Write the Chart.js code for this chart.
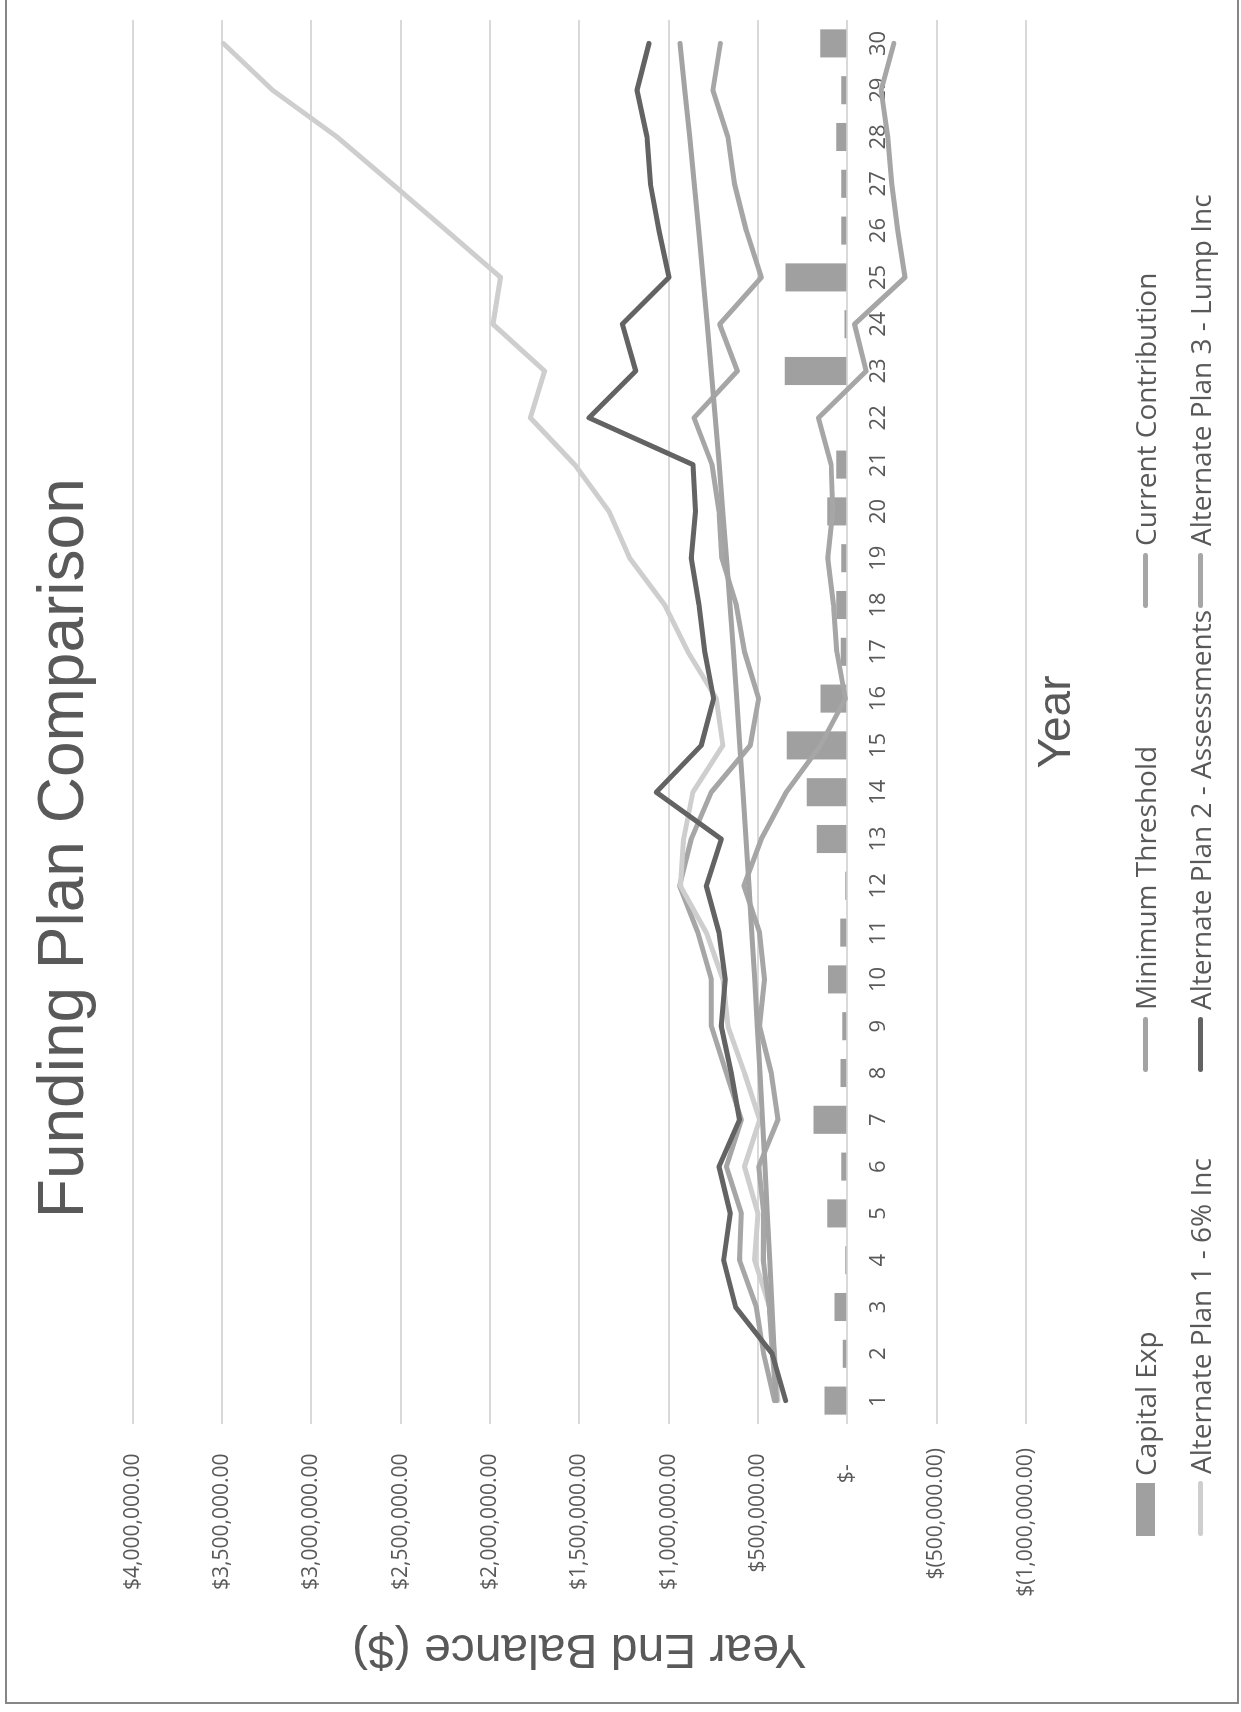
<!DOCTYPE html>
<html><head><meta charset="utf-8">
<script src="https://cdn.jsdelivr.net/npm/chart.js@4.4.1/dist/chart.umd.min.js"></script>
<style>
html,body{margin:0;padding:0;overflow:hidden;background:#fff;width:1241px;height:1712px;}
#frame{position:absolute;left:5px;top:-4px;width:1234px;height:1708px;border:2px solid #868686;box-sizing:border-box;}
#rot{position:absolute;left:0;top:0;width:1712px;height:1241px;transform-origin:0 0;transform:translateY(1712px) rotate(-90deg);}
#rot canvas{position:absolute;left:0;top:0;}
.lg{position:absolute;display:flex;align-items:center;height:40px;font-family:"Open Sans";font-size:28px;color:#595959;white-space:nowrap;}
.sw{display:inline-block;margin-right:7px;}
</style></head>
<body>
<div id="frame"></div>
<div id="rot"><canvas id="c" width="1712" height="1241" style="width:1712px;height:1241px"></canvas></div>
<script>
const years = ['1','2','3','4','5','6','7','8','9','10','11','12','13','14','15','16','17','18','19','20','21','22','23','24','25','26','27','28','29','30'];
const capitalExp = [127000,25000,71000,11000,112000,34000,188000,37000,28000,108000,39000,11000,170000,226000,338000,149000,36000,62000,34000,112000,62000,0,349000,15000,345000,34000,34000,62000,34000,151000];
const minimumThreshold = [397000,409000,421000,434000,447000,460000,474000,488000,503000,518000,534000,550000,566000,583000,601000,619000,637000,656000,676000,697000,717000,739000,761000,784000,807000,831000,856000,882000,909000,936000];
const currentContribution = [397000,418000,437000,470000,468000,495000,388000,425000,491000,463000,491000,578000,481000,341000,150000,10000,58000,77000,109000,81000,90000,161000,-106000,-41000,-324000,-283000,-250000,-227000,-190000,-261000];
const altPlan1 = [388000,407000,435000,519000,500000,575000,491000,575000,668000,696000,789000,934000,916000,864000,696000,733000,892000,1022000,1218000,1334000,1526000,1774000,1694000,1983000,1941000,2243000,2548000,2856000,3217000,3493000];
const altPlan2 = [345000,420000,625000,692000,655000,718000,603000,649000,705000,683000,718000,789000,705000,1069000,817000,748000,798000,830000,873000,849000,864000,1446000,1184000,1259000,998000,1054000,1102000,1121000,1177000,1110000];
const altPlan3 = [407000,468000,509000,603000,593000,677000,593000,677000,761000,761000,836000,938000,873000,761000,543000,496000,575000,621000,702000,718000,757000,858000,615000,714000,481000,565000,631000,668000,752000,710000];
const valueTicks = [-1000000,-500000,0,500000,1000000,1500000,2000000,2500000,3000000,3500000,4000000];

const seriesNames = ['Capital Exp','Minimum Threshold','Current Contribution','Alternate Plan 1 - 6% Inc','Alternate Plan 2 - Assessments','Alternate Plan 3 - Lump Inc'];
const seriesColors = ['#a0a0a0','#a3a3a3','#a6a6a6','#cecece','#636363','#a6a6a6'];
const seriesData = [capitalExp, minimumThreshold, currentContribution, altPlan1, altPlan2, altPlan3];

function fmt(v){
  if (v === 0) return '$-   ';
  const a = Math.abs(v).toLocaleString('en-US',{minimumFractionDigits:2,maximumFractionDigits:2});
  return v < 0 ? '$(' + a + ')' : '$' + a + ' ';
}

const datasets = seriesData.map((d,i)=> i===0 ? {
  type:'bar', label:seriesNames[i], data:d, backgroundColor:seriesColors[i], borderWidth:0,
  barPercentage:0.6, categoryPercentage:1, order:10, xAxisID:'x', yAxisID:'y'
} : {
  type:'line', label:seriesNames[i], data:d, borderColor:seriesColors[i], backgroundColor:seriesColors[i],
  borderWidth:5, pointRadius:0, tension:0, fill:false, borderJoinStyle:'round', borderCapStyle:'round',
  order:i===4?0:1, xAxisID:'x', yAxisID:'y'
});

new Chart(document.getElementById('c'), {
  type:'bar',
  data:{labels:years, datasets},
  options:{
    responsive:false, animation:false, devicePixelRatio:1,
    layout:{padding:{left:0,right:20,top:0,bottom:156}},
    plugins:{
      legend:{display:false}, tooltip:{enabled:false},
      title:{display:true, text:'\u00a0\u00a0Funding Plan Comparison', color:'#595959',
        font:{family:'Liberation Sans', size:64, weight:'normal'}, padding:{top:27,bottom:29}}
    },
    scales:{
      x:{type:'category', position:{y:0}, offset:true,
        grid:{display:false, drawTicks:false}, border:{display:false},
        ticks:{font:{family:'Open Sans', size:22}, color:'#595959', padding:18, maxRotation:0, minRotation:0, autoSkip:false},
        afterFit(s){ s.height = 0; }},
      xt:{type:'category', position:'bottom', offset:true,
        grid:{display:false, drawTicks:false}, border:{display:false}, ticks:{display:false},
        title:{display:true, text:'Year', color:'#595959', font:{family:'Liberation Sans', size:46, weight:'normal'}, padding:{top:4,bottom:0}}},
      y:{type:'linear', position:'left', min:-1000000, max:4000000,
        afterBuildTicks(s){ s.ticks = valueTicks.map(v=>({value:v})); },
        ticks:{callback:fmt, font:{family:'Open Sans', size:21}, color:'#595959', padding:24},
        grid:{color:'#d9d9d9', lineWidth:2, drawTicks:false}, border:{display:false},
        title:{display:true, text:'Year End Balance ($)', color:'#595959', font:{family:'Liberation Sans', size:48, weight:'normal'}, padding:{top:35,bottom:0}},
        afterFit(s){ s.width = 288; }}
    }
  }
});

// legend (two rows, three aligned columns)
const colX = [176, 640, 1104];
const rowY = [1145, 1200];
const legendOrder = [0,1,2,3,4,5];
const rot = document.getElementById('rot');
legendOrder.forEach((si,k)=>{
  const row = Math.floor(k/3), col = k%3;
  const el = document.createElement('div');
  el.className = 'lg';
  el.style.left = colX[col] + 'px';
  el.style.top = (rowY[row] - 20) + 'px';
  const sw = document.createElement('span');
  sw.className = 'sw';
  sw.style.background = seriesColors[si];
  if (si === 0) { sw.style.width='53px'; sw.style.height='19px'; }
  else { sw.style.width='55px'; sw.style.height='5px'; sw.style.borderRadius='3px'; }
  const tx = document.createElement('span');
  tx.textContent = seriesNames[si];
  el.appendChild(sw); el.appendChild(tx);
  rot.appendChild(el);
});
</script>
</body></html>
